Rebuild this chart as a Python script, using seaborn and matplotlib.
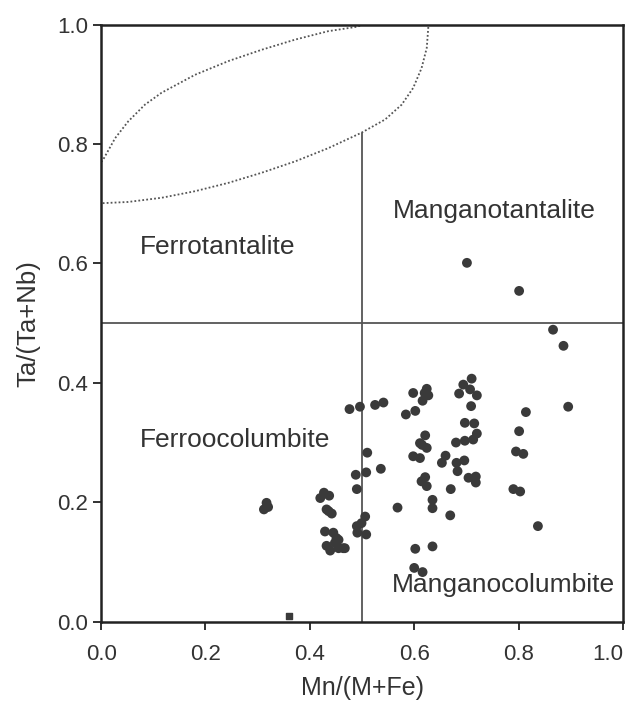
import numpy as np
import pandas as pd
import matplotlib
matplotlib.use("Agg")
import matplotlib.pyplot as plt
import seaborn as sns

# ---------- data ----------
mn_ratio = [
    0.317, 0.312, 0.320,
    0.420, 0.427, 0.437, 0.432, 0.442, 0.429, 0.445, 0.451, 0.432, 0.439,
    0.455, 0.464, 0.448, 0.436, 0.455, 0.467,
    0.476, 0.496, 0.525, 0.541, 0.584, 0.602, 0.598, 0.624, 0.627, 0.616, 0.620,
    0.686, 0.694, 0.710, 0.707, 0.720, 0.709, 0.814,
    0.697, 0.715, 0.720, 0.713, 0.697, 0.680, 0.621, 0.611, 0.624, 0.615,
    0.598, 0.611, 0.660, 0.653, 0.681, 0.696, 0.683, 0.704, 0.718, 0.718,
    0.621, 0.614, 0.624, 0.670, 0.801, 0.795, 0.809, 0.790, 0.803, 0.837,
    0.635, 0.635, 0.568, 0.669, 0.602, 0.635, 0.600, 0.616,
    0.510, 0.488, 0.508, 0.536, 0.490, 0.506, 0.499, 0.490, 0.491, 0.508,
    0.866, 0.886, 0.895, 0.701, 0.801,
]
ta_ratio = [
    0.199, 0.188, 0.192,
    0.207, 0.216, 0.211, 0.188, 0.181, 0.151, 0.149, 0.140, 0.127, 0.119,
    0.123, 0.123, 0.132, 0.185, 0.137, 0.123,
    0.356, 0.360, 0.363, 0.367, 0.347, 0.353, 0.383, 0.390, 0.379, 0.370, 0.383,
    0.382, 0.397, 0.407, 0.389, 0.379, 0.361, 0.351,
    0.333, 0.332, 0.315, 0.305, 0.303, 0.300, 0.312, 0.299, 0.291, 0.296,
    0.277, 0.274, 0.278, 0.266, 0.266, 0.270, 0.252, 0.241, 0.243, 0.233,
    0.242, 0.235, 0.227, 0.222, 0.319, 0.285, 0.281, 0.222, 0.218, 0.160,
    0.204, 0.190, 0.191, 0.178, 0.122, 0.126, 0.090, 0.083,
    0.283, 0.246, 0.250, 0.256, 0.222, 0.176, 0.165, 0.160, 0.149, 0.146,
    0.489, 0.462, 0.360, 0.601, 0.554,
]
square_x = [0.36]
square_y = [0.01]

# dotted lens (field boundary)
upper_x = [0.0, 0.004, 0.027, 0.052, 0.084, 0.116, 0.180, 0.244, 0.308,
           0.372, 0.435, 0.487, 0.50]
upper_y = [0.770, 0.774, 0.810, 0.838, 0.866, 0.886, 0.916, 0.939, 0.958,
           0.975, 0.989, 0.996, 0.999]
lower_x = [0.627, 0.624, 0.614, 0.598, 0.576, 0.544, 0.499, 0.435, 0.372,
           0.308, 0.244, 0.180, 0.116, 0.052, 0.004, 0.0]
lower_y = [0.996, 0.961, 0.927, 0.894, 0.866, 0.841, 0.819, 0.793, 0.771,
           0.752, 0.735, 0.721, 0.710, 0.703, 0.701, 0.701]

field_labels = ["Ferrotantalite", "Manganotantalite", "Ferroocolumbite", "Manganocolumbite"]
label_x = [0.075, 0.559, 0.075, 0.557]
label_y = [0.628, 0.688, 0.305, 0.062]

ticks = [0.0, 0.2, 0.4, 0.6, 0.8, 1.0]

# ---------- plot ----------
sns.set_style("ticks")
plt.rcParams["font.family"] = ["Liberation Sans", "DejaVu Sans"]

df = pd.DataFrame({"mn": mn_ratio, "ta": ta_ratio})

fig = plt.figure(figsize=(6.28, 7.04), dpi=100)
ax = fig.add_axes([0.161, 0.117, 0.831, 0.848])

ax.plot(upper_x, upper_y, ls=(0, (1, 1.2)), lw=1.3, color="#555555")
ax.plot(lower_x, lower_y, ls=(0, (1, 1.2)), lw=1.3, color="#555555")

ax.axhline(0.5, color="#555555", lw=1.3)
ax.plot([0.5, 0.5], [0.0, 0.819], color="#555555", lw=1.3)

sns.scatterplot(data=df, x="mn", y="ta", ax=ax, s=50, color="#3a3a3a",
                edgecolor="none", zorder=3)
ax.scatter(square_x, square_y, marker="s", s=14, color="#3a3a3a", zorder=3)

for txt, lx, ly in zip(field_labels, label_x, label_y):
    ax.text(lx, ly, txt, ha="left", va="center", fontsize=19, color="#333333")

ax.set_xlim(0, 1.0)
ax.set_ylim(0, 1.0)
ax.set_xticks(ticks)
ax.set_yticks(ticks)
ax.set_xticklabels([f"{t:.1f}" for t in ticks])
ax.set_yticklabels([f"{t:.1f}" for t in ticks])
ax.tick_params(axis="both", labelsize=16, length=6, width=1.3, colors="#222222",
               labelcolor="#333333")
ax.tick_params(axis="x", pad=10)
ax.get_xticklabels()[-1].set_ha("right")
ax.set_xlabel("Mn/(M+Fe)", fontsize=18, color="#333333", labelpad=8)
ax.set_ylabel("Ta/(Ta+Nb)", fontsize=18.5, color="#333333", labelpad=12)

for side in ["top", "right", "bottom", "left"]:
    ax.spines[side].set_visible(True)
    ax.spines[side].set_linewidth(1.8)
    ax.spines[side].set_color("#222222")

fig.savefig("out.png", dpi=100)
